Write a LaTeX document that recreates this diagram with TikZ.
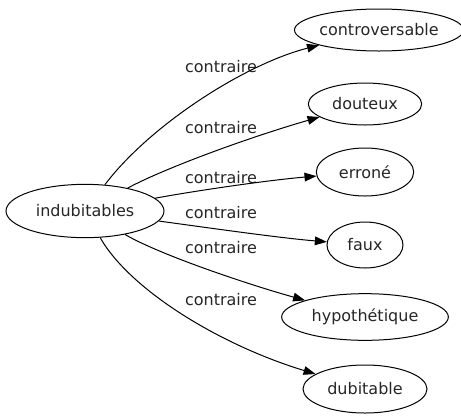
\documentclass[tikz,border=0pt]{standalone}
\usepackage{fontspec}
\setmainfont{DejaVu Sans}
\usepackage{tikz}
\usetikzlibrary{arrows.meta,shapes.geometric}
\tikzset{
  word/.style={ellipse, draw=black, line width=0.75pt, inner sep=0pt,
               font=\fontsize{12}{14}\selectfont, text=black!85},
  arr/.style={-{Triangle[length=9pt,width=6.5pt]}, draw=black, line width=0.75pt},
  lbl/.style={font=\fontsize{12}{14}\selectfont, text=black!85, inner sep=0pt},
}
\begin{document}
\begin{tikzpicture}[x=0.75pt, y=-0.75pt]
  \useasboundingbox (0,0) rectangle (461,419);
  \node[word, minimum width=118.5pt, minimum height=40pt] (ind) at (85,211) {indubitables};
  \node[word, minimum width=114pt, minimum height=31.5pt] (contr) at (379,30) {controversable};
  \node[word, minimum width=85pt, minimum height=31.5pt] (dout) at (365,104) {douteux};
  \node[word, minimum width=73pt, minimum height=36pt] (erro) at (365,172) {erroné};
  \node[word, minimum width=57pt, minimum height=34.5pt] (faux) at (365,245) {faux};
  \node[word, minimum width=125pt, minimum height=35pt] (hypo) at (365,317) {hypothétique};
  \node[word, minimum width=93pt, minimum height=36pt] (dubi) at (365,389) {dubitable};

  \node[lbl] (l1) at (221,67) {contraire};
  \node[lbl] (l2) at (221,128) {contraire};
  \node[lbl] (l3) at (221,178) {contraire};
  \node[lbl] (l4) at (221,213) {contraire};
  \node[lbl] (l5) at (221,248) {contraire};
  \node[lbl] (l6) at (221,300) {contraire};

  \draw[arr] (ind) .. controls (150,125) and (245,64) .. (contr);
  \draw[arr] (ind) .. controls (165,168) and (250,137) .. (dout);
  \draw[arr] (ind) .. controls (200,190) and (270,180) .. (erro);
  \draw[arr] (ind) .. controls (210,228) and (280,238) .. (faux);
  \draw[arr] (ind) .. controls (160,255) and (250,285) .. (hypo);
  \draw[arr] (ind) .. controls (130,290) and (220,345) .. (dubi);
\end{tikzpicture}
\end{document}
